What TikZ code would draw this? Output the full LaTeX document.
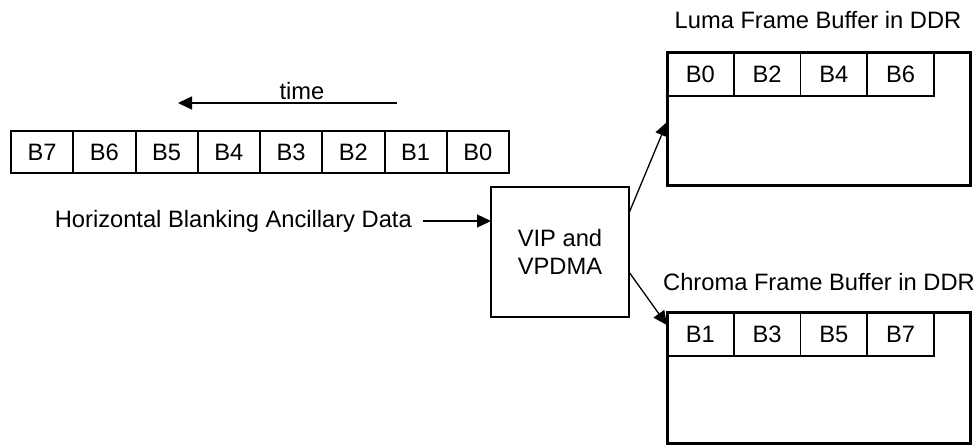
\documentclass[tikz,border=0pt]{standalone}
\usepackage{fontspec}
\setmainfont{Liberation Sans}
\usetikzlibrary{arrows.meta,calc}
\newcommand\fsz{\fontsize{23.7}{28}\selectfont}
\begin{document}
\begin{tikzpicture}[x=1pt,y=-1pt,
  every node/.style={font=\fsz},
  rowcell/.style={draw, line width=2pt, minimum width=62.25pt, minimum height=42pt, inner sep=0pt, outer sep=0pt, anchor=north west},
  bufcell/.style={draw, line width=1.7pt, minimum width=66.75pt, minimum height=44pt, inner sep=0pt, outer sep=0pt, anchor=north west},
  frame/.style={line width=3pt},
  conn/.style={line width=1.3pt, -{Triangle[length=14pt,width=13pt]}},
  lbl/.style={inner sep=0pt}
]
\useasboundingbox (0,0) rectangle (977,445);

% time arrow
\node[lbl] (time) at (302,91) {time};
\coordinate (tA) at (397,103);
\coordinate (tB) at (178,103);
\draw[conn] (tA) -- (tB);

% row of bytes
\foreach \lab [count=\i from 0] in {B7,B6,B5,B4,B3,B2,B1,B0} {
  \node[rowcell] (r\i) at ({11+62.25*\i},131) {\lab};
}
\draw[line width=2.7pt] (r0.north west) rectangle (r7.south east);

% VIP box
\node[draw, line width=2.7pt, minimum width=138pt, minimum height=130pt, align=center, inner sep=0pt, outer sep=0pt] (vip) at (560,252) {VIP and\\VPDMA};

% HBA label and arrow
\node[lbl, anchor=east] (hba) at (412,221) {Horizontal Blanking Ancillary Data};
\draw[conn] ([xshift=11pt]hba.east) -- (vip.west |- hba.east);

% Luma buffer
\node[lbl] (lumat) at (818,20) {Luma Frame Buffer in DDR};
\foreach \lab [count=\i from 0] in {B0,B2,B4,B6} {
  \node[bufcell] (l\i) at ({667+66.75*\i},52) {\lab};
}
\node[draw, frame, minimum width=303pt, minimum height=133pt, anchor=north west, inner sep=0pt, outer sep=0pt] (luma) at (667,52) {};

% Chroma buffer
\node[lbl] (chromat) at (819,282) {Chroma Frame Buffer in DDR};
\foreach \lab [count=\i from 0] in {B1,B3,B5,B7} {
  \node[bufcell] (c\i) at ({667+66.75*\i},312) {\lab};
}
\node[draw, frame, minimum width=303pt, minimum height=131pt, anchor=north west, inner sep=0pt, outer sep=0pt] (chroma) at (667,312) {};

% connectors
\draw[conn] ($(vip.north east)!0.2!(vip.south east)$) -- ($(luma.north west)!0.526!(luma.south west)$);
\draw[conn] ($(vip.north east)!0.654!(vip.south east)$) -- ($(chroma.north west)!0.1!(chroma.south west)$);
\end{tikzpicture}
\end{document}
